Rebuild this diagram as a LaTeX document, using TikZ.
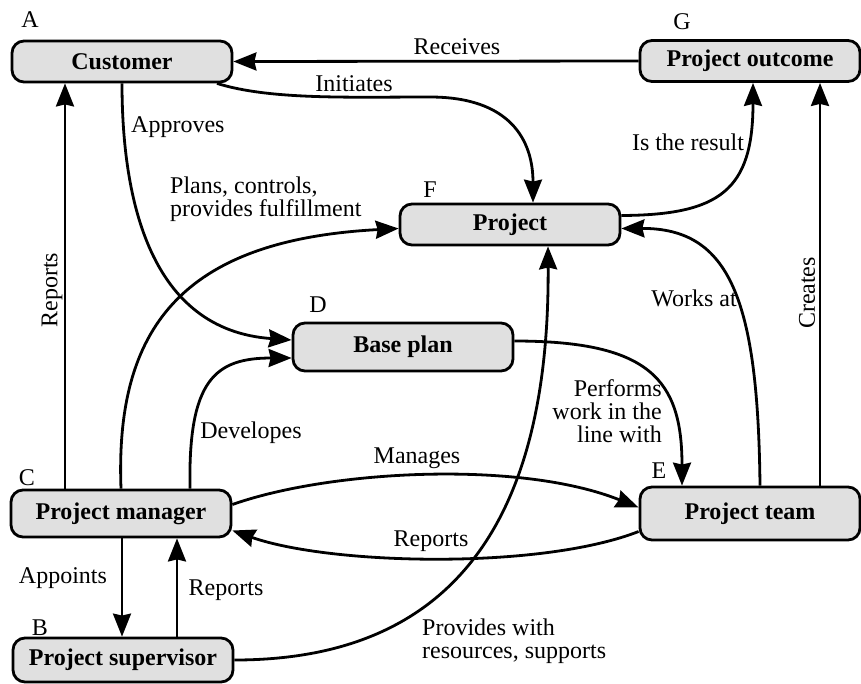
\documentclass[tikz,border=0pt]{standalone}
\usepackage{fontspec}
\setmainfont{Liberation Serif}
\usetikzlibrary{arrows.meta}
\definecolor{boxgray}{HTML}{E0E0E0}
\begin{document}
\begin{tikzpicture}[x=1pt,y=-1pt,
 box/.style={draw=black, line width=2.8pt, fill=boxgray, rounded corners=12pt, minimum width=220pt, font=\fontsize{24}{24}\selectfont\bfseries, inner sep=0pt},
 conn/.style={line width=2.8pt, -{Stealth[length=23pt,width=18pt,inset=2pt]}},
 lab/.style={font=\fontsize{24}{23}\selectfont, inner sep=0pt},
 ]
\fill[white] (0,0) rectangle (861,683);
\useasboundingbox (0,0) rectangle (861,683);
% nodes
\node[box, minimum height=41pt] (A) at (122,61.5) {Customer};
\node[box, minimum height=41pt] (G) at (750,61) {Project outcome};
\node[box, minimum height=41pt] (F) at (510,224.5) {Project};
\node[box, minimum height=48pt] (D) at (403,347) {Base plan};
\node[box, minimum height=47pt] (C) at (121,513.5) {Project manager};
\node[box, minimum height=44pt] (B) at (123,660) {Project supervisor};
\node[box, minimum height=53pt] (E) at (750,513.5) {Project team};
% letters
\node[lab] (la) at (30,20) {A};
\node[lab] (lg) at (682,22) {G};
\node[lab] (lf) at (430,190) {F};
\node[lab] (ld) at (318,305) {D};
\node[lab] (lc) at (27,478) {C};
\node[lab] (lb) at (40,628) {B};
\node[lab] (le) at (659,471) {E};
% connectors
\draw[conn] (G.west) -- (A.east);
\draw[conn] ([xshift=95pt]A.south) .. controls (270,100) and (350,97) .. (430,97) .. controls (510,97) and (533,140) .. ([xshift=23pt]F.north);
\draw[conn] (A.south) .. controls (122,200) and (150,330) .. ([yshift=7pt]D.west);
\draw[conn] ([xshift=-56pt]C.north) -- ([xshift=-57pt]A.south);
\draw[conn] (C.north) .. controls (115,330) and (180,240) .. ([yshift=-4pt]F.west);
\draw[conn] ([xshift=69pt]C.north) .. controls (188,380) and (215,358) .. ([yshift=-11pt]D.west);
\draw[conn] ([yshift=9pt]C.east) .. controls (330,470) and (520,460) .. ([yshift=6pt]E.west);
\draw[conn] ([yshift=-18pt]E.west) .. controls (540,570) and (330,565) .. ([yshift=-17pt]C.east);
\draw[conn] ([xshift=1pt]C.south) -- ([xshift=-1pt]B.north);
\draw[conn] ([xshift=54pt]B.north) -- ([xshift=56pt]C.south);
\draw[conn] (B.east) .. controls (420,660) and (550,560) .. ([xshift=38pt]F.south);
\draw[conn] ([yshift=6pt]D.east) .. controls (650,341) and (682,380) .. ([xshift=-68pt]E.north);
\draw[conn] ([xshift=10pt]E.north) .. controls (758,300) and (730,228) .. ([yshift=-4pt]F.east);
\draw[conn] ([xshift=70pt]E.north) -- ([xshift=70pt]G.south);
\draw[conn] ([yshift=9pt]F.east) .. controls (720,215) and (753,190) .. ([xshift=3pt]G.south);
% labels
\node[lab] (l1) at (457,47) {Receives};
\node[lab] (l2) at (354,84) {Initiates};
\node[lab, anchor=west] (l3) at (131,127) {Approves};
\node[lab, anchor=west, align=left] (l4) at (170,199) {Plans, controls,\\provides fulfillment};
\node[lab] (l5) at (688,142) {Is the result};
\node[lab, rotate=90] (l6) at (52,290) {Reports};
\node[lab, anchor=east] (l7) at (737,298) {Works at};
\node[lab, rotate=90] (l8) at (807,293) {Creates};
\node[lab, anchor=east, align=right] (l9) at (662,411) {Performs\\work in the\\line with};
\node[lab] (l10) at (251,433) {Developes};
\node[lab] (l11) at (417,458) {Manages};
\node[lab] (l12) at (431,541) {Reports};
\node[lab] (l13) at (63,578) {Appoints};
\node[lab] (l14) at (226,590) {Reports};
\node[lab, anchor=west, align=left] (l15) at (422,641) {Provides with\\resources, supports};
\end{tikzpicture}
\end{document}
